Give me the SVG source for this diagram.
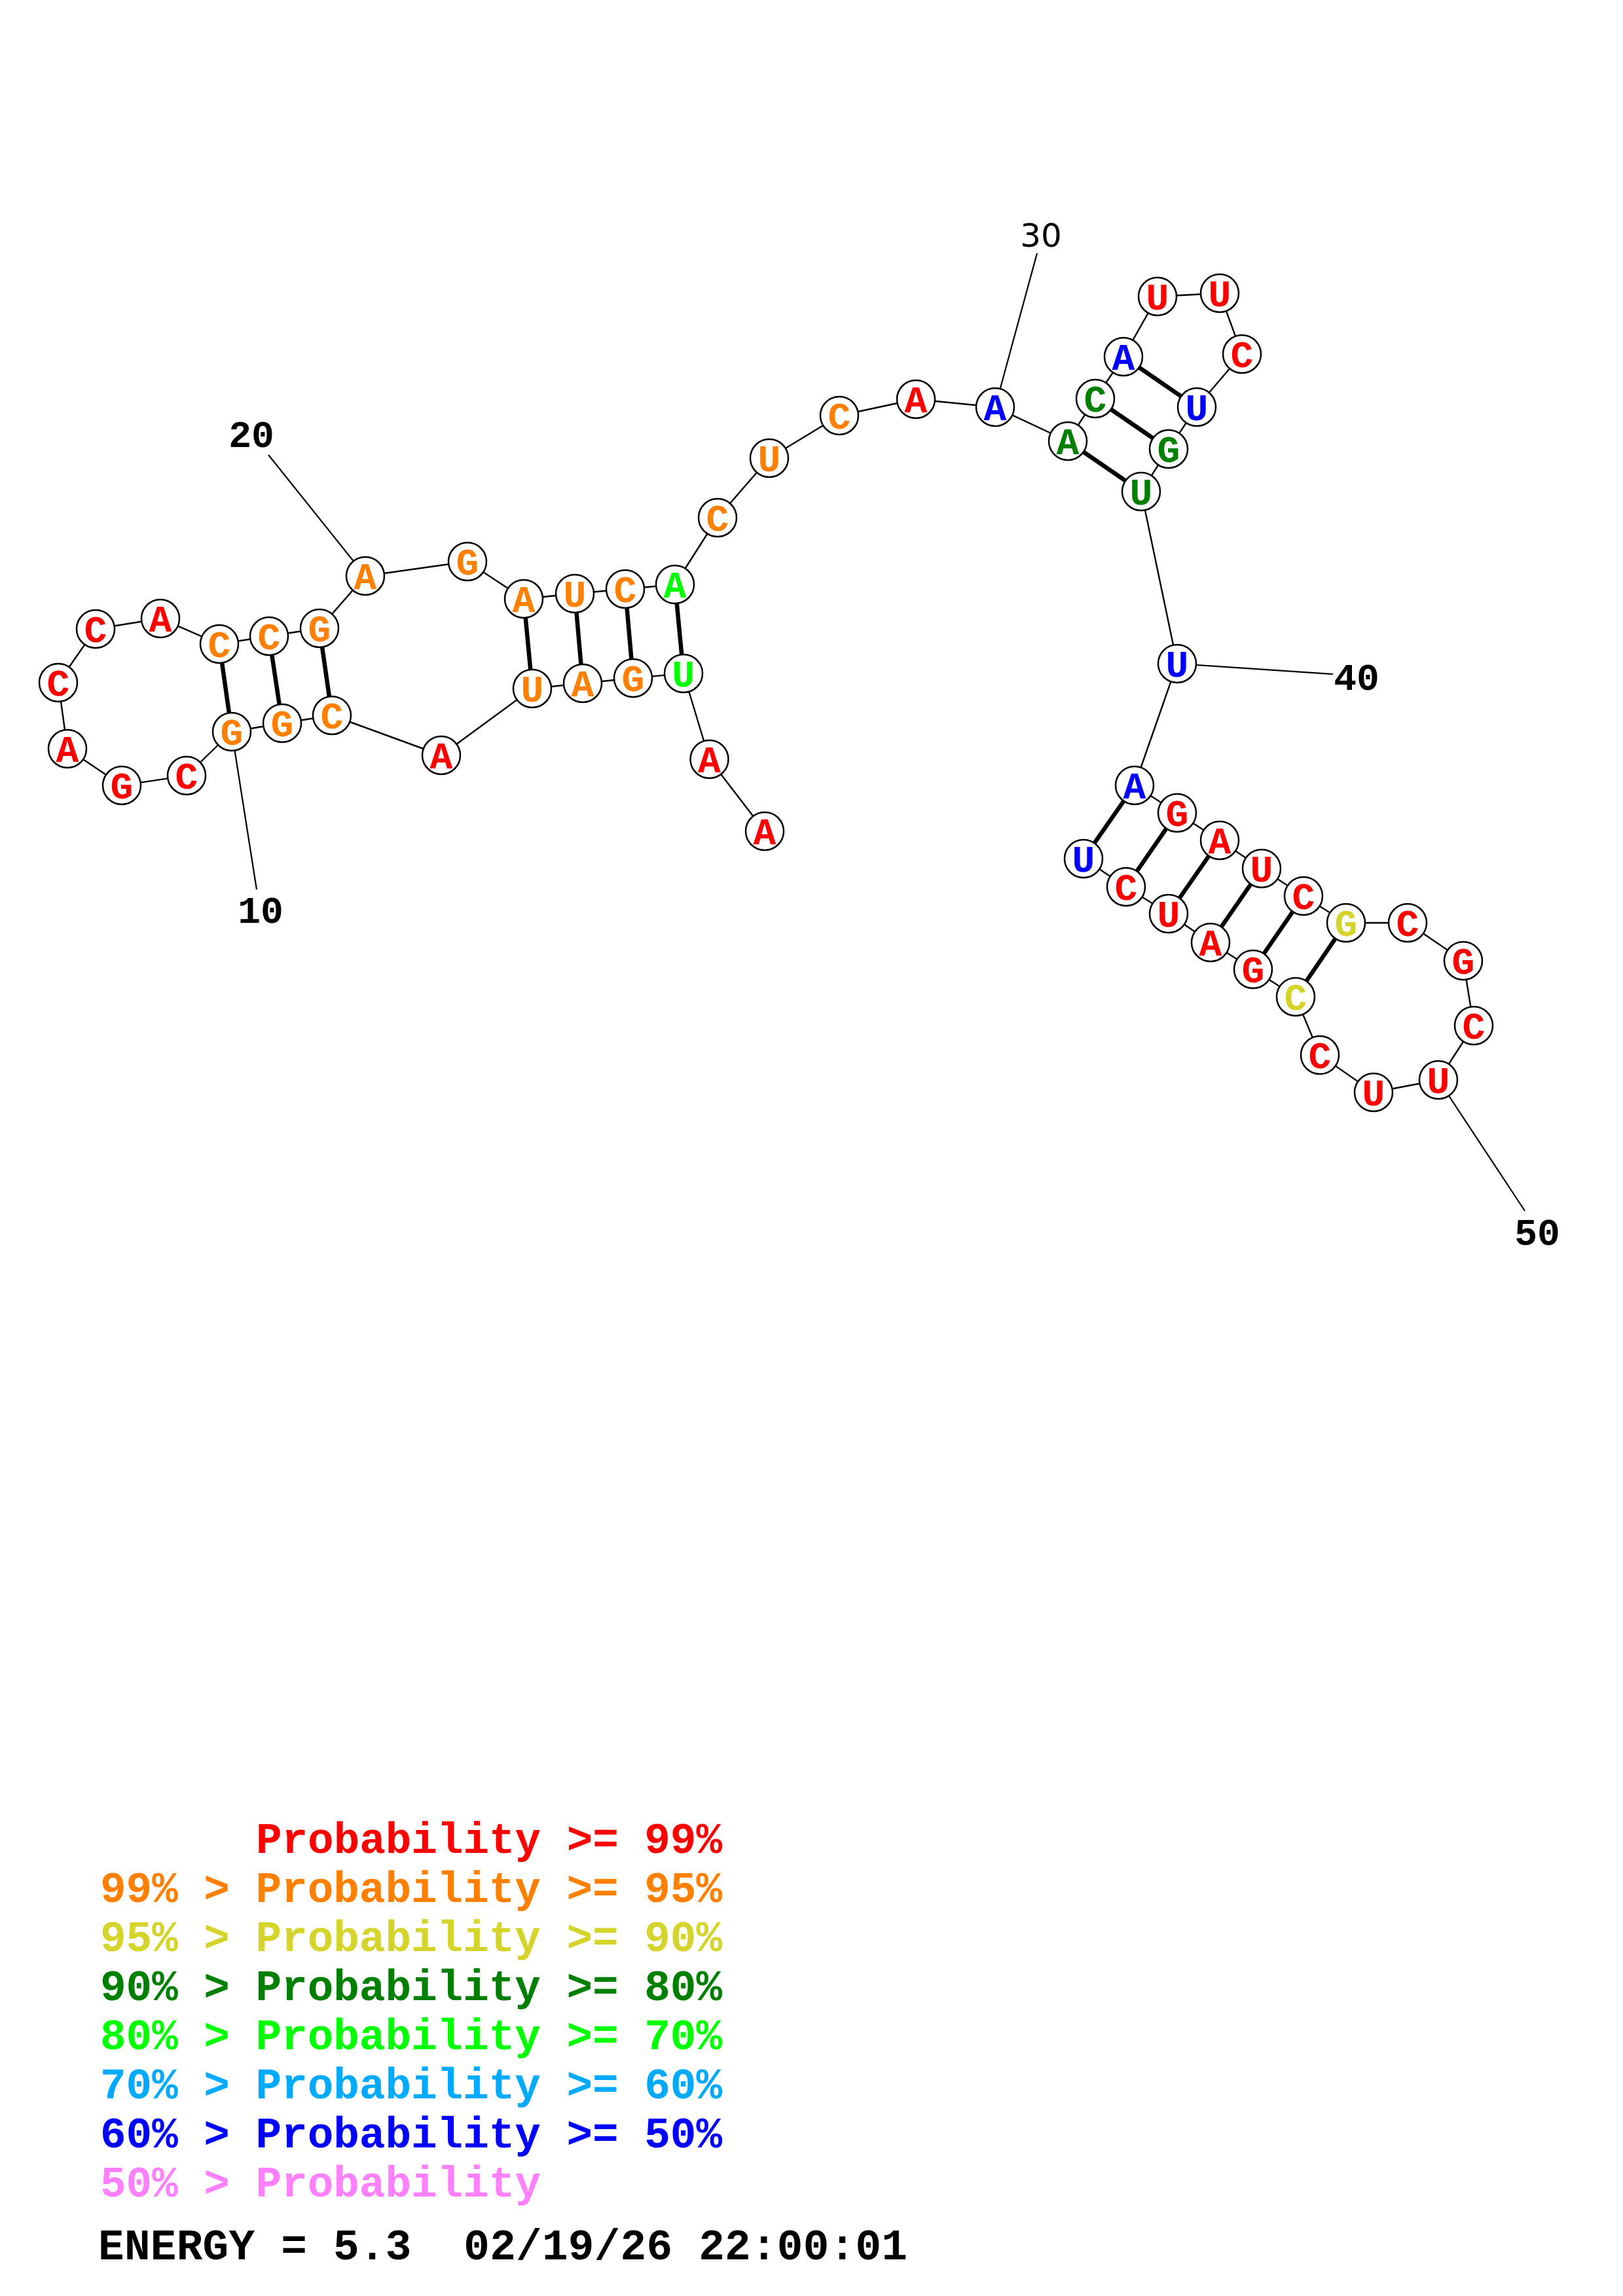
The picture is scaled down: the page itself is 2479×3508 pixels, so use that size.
<svg xmlns="http://www.w3.org/2000/svg" width="2479" height="3508" viewBox="0 0 2479 3508">
<style>
.bg{fill:#ffffff}
.bb{stroke:#000;stroke-width:2.4;fill:none}
.pr{stroke:#000;stroke-width:6.5;fill:none}
.lb{stroke:#000;stroke-width:2.2;fill:none}
.nc{fill:#fff;stroke:#000;stroke-width:2.5}
.nt{font-family:"Liberation Mono","Courier New",monospace;font-weight:bold;font-size:58px;text-anchor:middle}
.num{font-family:"Liberation Mono","Courier New",monospace;font-weight:bold;font-size:58px;text-anchor:middle;fill:#000}
.num2{font-family:"DejaVu Sans","Liberation Sans",sans-serif;font-size:50px;text-anchor:middle;fill:#000}
.lg{font-family:"Liberation Mono","Courier New",monospace;font-weight:bold;font-size:66px;white-space:pre}
.r{fill:#ff0000}.o{fill:#ff8000}.y{fill:#d4d42a}.dg{fill:#008000}.lm{fill:#00ff00}.lb2{fill:#00aaff}.b{fill:#0000ff}.p{fill:#ff80ff}.k{fill:#000}
</style>
<rect class="bg" x="0" y="0" width="2479" height="3508"/>
<g id="connectors">
<line class="bb" x1="1168" y1="1270" x2="1083.5" y2="1160"/>
<line class="bb" x1="1083.5" y1="1160" x2="1044" y2="1029"/>
<line class="bb" x1="1044" y1="1029" x2="967" y2="1036"/>
<line class="bb" x1="967" y1="1036" x2="890" y2="1044"/>
<line class="bb" x1="890" y1="1044" x2="813" y2="1052"/>
<line class="bb" x1="813" y1="1052" x2="674" y2="1154"/>
<line class="bb" x1="674" y1="1154" x2="507" y2="1093"/>
<line class="bb" x1="507" y1="1093" x2="431" y2="1105"/>
<line class="bb" x1="431" y1="1105" x2="354" y2="1118"/>
<line class="bb" x1="354" y1="1118" x2="285" y2="1185"/>
<line class="bb" x1="285" y1="1185" x2="186" y2="1200"/>
<line class="bb" x1="186" y1="1200" x2="103" y2="1144"/>
<line class="bb" x1="103" y1="1144" x2="89" y2="1043"/>
<line class="bb" x1="89" y1="1043" x2="146" y2="961"/>
<line class="bb" x1="146" y1="961" x2="245" y2="945"/>
<line class="bb" x1="245" y1="945" x2="335" y2="984"/>
<line class="bb" x1="335" y1="984" x2="411" y2="972"/>
<line class="bb" x1="411" y1="972" x2="488" y2="960"/>
<line class="bb" x1="488" y1="960" x2="558" y2="880"/>
<line class="bb" x1="558" y1="880" x2="714" y2="858"/>
<line class="bb" x1="714" y1="858" x2="800" y2="915"/>
<line class="bb" x1="800" y1="915" x2="878" y2="907"/>
<line class="bb" x1="878" y1="907" x2="955" y2="900"/>
<line class="bb" x1="955" y1="900" x2="1031" y2="893"/>
<line class="bb" x1="1031" y1="893" x2="1096" y2="791"/>
<line class="bb" x1="1096" y1="791" x2="1175" y2="700"/>
<line class="bb" x1="1175" y1="700" x2="1282" y2="635"/>
<line class="bb" x1="1282" y1="635" x2="1399" y2="610"/>
<line class="bb" x1="1399" y1="610" x2="1520" y2="622"/>
<line class="bb" x1="1520" y1="622" x2="1631" y2="674"/>
<line class="bb" x1="1631" y1="674" x2="1673" y2="609"/>
<line class="bb" x1="1673" y1="609" x2="1716" y2="545"/>
<line class="bb" x1="1716" y1="545" x2="1768" y2="453"/>
<line class="bb" x1="1768" y1="453" x2="1863" y2="448"/>
<line class="bb" x1="1863" y1="448" x2="1897" y2="541"/>
<line class="bb" x1="1897" y1="541" x2="1828" y2="622"/>
<line class="bb" x1="1828" y1="622" x2="1785" y2="686"/>
<line class="bb" x1="1785" y1="686" x2="1743" y2="751"/>
<line class="bb" x1="1743" y1="751" x2="1798" y2="1014"/>
<line class="bb" x1="1798" y1="1014" x2="1733" y2="1200"/>
<line class="bb" x1="1733" y1="1200" x2="1798" y2="1242"/>
<line class="bb" x1="1798" y1="1242" x2="1863" y2="1284"/>
<line class="bb" x1="1863" y1="1284" x2="1927" y2="1327"/>
<line class="bb" x1="1927" y1="1327" x2="1991" y2="1369"/>
<line class="bb" x1="1991" y1="1369" x2="2056" y2="1410"/>
<line class="bb" x1="2056" y1="1410" x2="2150" y2="1410"/>
<line class="bb" x1="2150" y1="1410" x2="2235" y2="1468"/>
<line class="bb" x1="2235" y1="1468" x2="2251" y2="1567"/>
<line class="bb" x1="2251" y1="1567" x2="2197" y2="1650"/>
<line class="bb" x1="2197" y1="1650" x2="2098" y2="1669"/>
<line class="bb" x1="2098" y1="1669" x2="2016" y2="1612"/>
<line class="bb" x1="2016" y1="1612" x2="1979" y2="1523"/>
<line class="bb" x1="1979" y1="1523" x2="1914" y2="1481"/>
<line class="bb" x1="1914" y1="1481" x2="1849" y2="1440"/>
<line class="bb" x1="1849" y1="1440" x2="1785" y2="1396"/>
<line class="bb" x1="1785" y1="1396" x2="1720" y2="1355"/>
<line class="bb" x1="1720" y1="1355" x2="1655" y2="1312"/>
<line class="pr" x1="335" y1="984" x2="354" y2="1118"/>
<line class="pr" x1="411" y1="972" x2="431" y2="1105"/>
<line class="pr" x1="488" y1="960" x2="507" y2="1093"/>
<line class="pr" x1="800" y1="915" x2="813" y2="1052"/>
<line class="pr" x1="878" y1="907" x2="890" y2="1044"/>
<line class="pr" x1="955" y1="900" x2="967" y2="1036"/>
<line class="pr" x1="1031" y1="893" x2="1044" y2="1029"/>
<line class="pr" x1="1631" y1="674" x2="1743" y2="751"/>
<line class="pr" x1="1673" y1="609" x2="1785" y2="686"/>
<line class="pr" x1="1716" y1="545" x2="1828" y2="622"/>
<line class="pr" x1="1733" y1="1200" x2="1655" y2="1312"/>
<line class="pr" x1="1798" y1="1242" x2="1720" y2="1355"/>
<line class="pr" x1="1863" y1="1284" x2="1785" y2="1396"/>
<line class="pr" x1="1927" y1="1327" x2="1849" y2="1440"/>
<line class="pr" x1="1991" y1="1369" x2="1914" y2="1481"/>
<line class="pr" x1="2056" y1="1410" x2="1979" y2="1523"/>
<line class="lb" x1="354" y1="1118" x2="392" y2="1359"/>
<line class="lb" x1="558" y1="880" x2="410" y2="695"/>
<line class="lb" x1="1520" y1="622" x2="1584" y2="387"/>
<line class="lb" x1="1798" y1="1014" x2="2036" y2="1030"/>
<line class="lb" x1="2197" y1="1650" x2="2329" y2="1850"/>
</g>
<g id="n1"><circle class="nc" cx="1168" cy="1270" r="29"/><text class="nt r" x="1168" y="1290">A</text></g>
<g id="n2"><circle class="nc" cx="1083.5" cy="1160" r="29"/><text class="nt r" x="1083.5" y="1180">A</text></g>
<g id="n3"><circle class="nc" cx="1044" cy="1029" r="29"/><text class="nt lm" x="1044" y="1049">U</text></g>
<g id="n4"><circle class="nc" cx="967" cy="1036" r="29"/><text class="nt o" x="967" y="1056">G</text></g>
<g id="n5"><circle class="nc" cx="890" cy="1044" r="29"/><text class="nt o" x="890" y="1064">A</text></g>
<g id="n6"><circle class="nc" cx="813" cy="1052" r="29"/><text class="nt o" x="813" y="1072">U</text></g>
<g id="n7"><circle class="nc" cx="674" cy="1154" r="29"/><text class="nt r" x="674" y="1174">A</text></g>
<g id="n8"><circle class="nc" cx="507" cy="1093" r="29"/><text class="nt o" x="507" y="1113">C</text></g>
<g id="n9"><circle class="nc" cx="431" cy="1105" r="29"/><text class="nt o" x="431" y="1125">G</text></g>
<g id="n10"><circle class="nc" cx="354" cy="1118" r="29"/><text class="nt o" x="354" y="1138">G</text></g>
<g id="n11"><circle class="nc" cx="285" cy="1185" r="29"/><text class="nt r" x="285" y="1205">C</text></g>
<g id="n12"><circle class="nc" cx="186" cy="1200" r="29"/><text class="nt r" x="186" y="1220">G</text></g>
<g id="n13"><circle class="nc" cx="103" cy="1144" r="29"/><text class="nt r" x="103" y="1164">A</text></g>
<g id="n14"><circle class="nc" cx="89" cy="1043" r="29"/><text class="nt r" x="89" y="1063">C</text></g>
<g id="n15"><circle class="nc" cx="146" cy="961" r="29"/><text class="nt r" x="146" y="981">C</text></g>
<g id="n16"><circle class="nc" cx="245" cy="945" r="29"/><text class="nt r" x="245" y="965">A</text></g>
<g id="n17"><circle class="nc" cx="335" cy="984" r="29"/><text class="nt o" x="335" y="1004">C</text></g>
<g id="n18"><circle class="nc" cx="411" cy="972" r="29"/><text class="nt o" x="411" y="992">C</text></g>
<g id="n19"><circle class="nc" cx="488" cy="960" r="29"/><text class="nt o" x="488" y="980">G</text></g>
<g id="n20"><circle class="nc" cx="558" cy="880" r="29"/><text class="nt o" x="558" y="900">A</text></g>
<g id="n21"><circle class="nc" cx="714" cy="858" r="29"/><text class="nt o" x="714" y="878">G</text></g>
<g id="n22"><circle class="nc" cx="800" cy="915" r="29"/><text class="nt o" x="800" y="935">A</text></g>
<g id="n23"><circle class="nc" cx="878" cy="907" r="29"/><text class="nt o" x="878" y="927">U</text></g>
<g id="n24"><circle class="nc" cx="955" cy="900" r="29"/><text class="nt o" x="955" y="920">C</text></g>
<g id="n25"><circle class="nc" cx="1031" cy="893" r="29"/><text class="nt lm" x="1031" y="913">A</text></g>
<g id="n26"><circle class="nc" cx="1096" cy="791" r="29"/><text class="nt o" x="1096" y="811">C</text></g>
<g id="n27"><circle class="nc" cx="1175" cy="700" r="29"/><text class="nt o" x="1175" y="720">U</text></g>
<g id="n28"><circle class="nc" cx="1282" cy="635" r="29"/><text class="nt o" x="1282" y="655">C</text></g>
<g id="n29"><circle class="nc" cx="1399" cy="610" r="29"/><text class="nt r" x="1399" y="630">A</text></g>
<g id="n30"><circle class="nc" cx="1520" cy="622" r="29"/><text class="nt b" x="1520" y="642">A</text></g>
<g id="n31"><circle class="nc" cx="1631" cy="674" r="29"/><text class="nt dg" x="1631" y="694">A</text></g>
<g id="n32"><circle class="nc" cx="1673" cy="609" r="29"/><text class="nt dg" x="1673" y="629">C</text></g>
<g id="n33"><circle class="nc" cx="1716" cy="545" r="29"/><text class="nt b" x="1716" y="565">A</text></g>
<g id="n34"><circle class="nc" cx="1768" cy="453" r="29"/><text class="nt r" x="1768" y="473">U</text></g>
<g id="n35"><circle class="nc" cx="1863" cy="448" r="29"/><text class="nt r" x="1863" y="468">U</text></g>
<g id="n36"><circle class="nc" cx="1897" cy="541" r="29"/><text class="nt r" x="1897" y="561">C</text></g>
<g id="n37"><circle class="nc" cx="1828" cy="622" r="29"/><text class="nt b" x="1828" y="642">U</text></g>
<g id="n38"><circle class="nc" cx="1785" cy="686" r="29"/><text class="nt dg" x="1785" y="706">G</text></g>
<g id="n39"><circle class="nc" cx="1743" cy="751" r="29"/><text class="nt dg" x="1743" y="771">U</text></g>
<g id="n40"><circle class="nc" cx="1798" cy="1014" r="29"/><text class="nt b" x="1798" y="1034">U</text></g>
<g id="n41"><circle class="nc" cx="1733" cy="1200" r="29"/><text class="nt b" x="1733" y="1220">A</text></g>
<g id="n42"><circle class="nc" cx="1798" cy="1242" r="29"/><text class="nt r" x="1798" y="1262">G</text></g>
<g id="n43"><circle class="nc" cx="1863" cy="1284" r="29"/><text class="nt r" x="1863" y="1304">A</text></g>
<g id="n44"><circle class="nc" cx="1927" cy="1327" r="29"/><text class="nt r" x="1927" y="1347">U</text></g>
<g id="n45"><circle class="nc" cx="1991" cy="1369" r="29"/><text class="nt r" x="1991" y="1389">C</text></g>
<g id="n46"><circle class="nc" cx="2056" cy="1410" r="29"/><text class="nt y" x="2056" y="1430">G</text></g>
<g id="n47"><circle class="nc" cx="2150" cy="1410" r="29"/><text class="nt r" x="2150" y="1430">C</text></g>
<g id="n48"><circle class="nc" cx="2235" cy="1468" r="29"/><text class="nt r" x="2235" y="1488">G</text></g>
<g id="n49"><circle class="nc" cx="2251" cy="1567" r="29"/><text class="nt r" x="2251" y="1587">C</text></g>
<g id="n50"><circle class="nc" cx="2197" cy="1650" r="29"/><text class="nt r" x="2197" y="1670">U</text></g>
<g id="n51"><circle class="nc" cx="2098" cy="1669" r="29"/><text class="nt r" x="2098" y="1689">U</text></g>
<g id="n52"><circle class="nc" cx="2016" cy="1612" r="29"/><text class="nt r" x="2016" y="1632">C</text></g>
<g id="n53"><circle class="nc" cx="1979" cy="1523" r="29"/><text class="nt y" x="1979" y="1543">C</text></g>
<g id="n54"><circle class="nc" cx="1914" cy="1481" r="29"/><text class="nt r" x="1914" y="1501">G</text></g>
<g id="n55"><circle class="nc" cx="1849" cy="1440" r="29"/><text class="nt r" x="1849" y="1460">A</text></g>
<g id="n56"><circle class="nc" cx="1785" cy="1396" r="29"/><text class="nt r" x="1785" y="1416">U</text></g>
<g id="n57"><circle class="nc" cx="1720" cy="1355" r="29"/><text class="nt r" x="1720" y="1375">C</text></g>
<g id="n58"><circle class="nc" cx="1655" cy="1312" r="29"/><text class="nt b" x="1655" y="1332">U</text></g>
<g id="labels">
<text class="num" x="398" y="1410">10</text>
<text class="num" x="384" y="683">20</text>
<text class="num2" x="1590" y="377">30</text>
<text class="num" x="2072" y="1054">40</text>
<text class="num" x="2348" y="1902">50</text>
</g>
<g id="legend">
<text class="lg r" x="391" y="2831" textLength="712" lengthAdjust="spacing">Probability &gt;= 99%</text>
<text class="lg o" x="153" y="2906" textLength="950" lengthAdjust="spacing">99% &gt; Probability &gt;= 95%</text>
<text class="lg y" x="153" y="2981" textLength="950" lengthAdjust="spacing">95% &gt; Probability &gt;= 90%</text>
<text class="lg dg" x="153" y="3056" textLength="950" lengthAdjust="spacing">90% &gt; Probability &gt;= 80%</text>
<text class="lg lm" x="153" y="3131" textLength="950" lengthAdjust="spacing">80% &gt; Probability &gt;= 70%</text>
<text class="lg lb2" x="153" y="3206" textLength="950" lengthAdjust="spacing">70% &gt; Probability &gt;= 60%</text>
<text class="lg b" x="153" y="3281" textLength="950" lengthAdjust="spacing">60% &gt; Probability &gt;= 50%</text>
<text class="lg p" x="153" y="3356" textLength="673" lengthAdjust="spacing">50% &gt; Probability</text>
<text class="lg k" x="150" y="3452" textLength="1236" lengthAdjust="spacing">ENERGY = 5.3  02/19/26 22:00:01</text>
</g>
</svg>
